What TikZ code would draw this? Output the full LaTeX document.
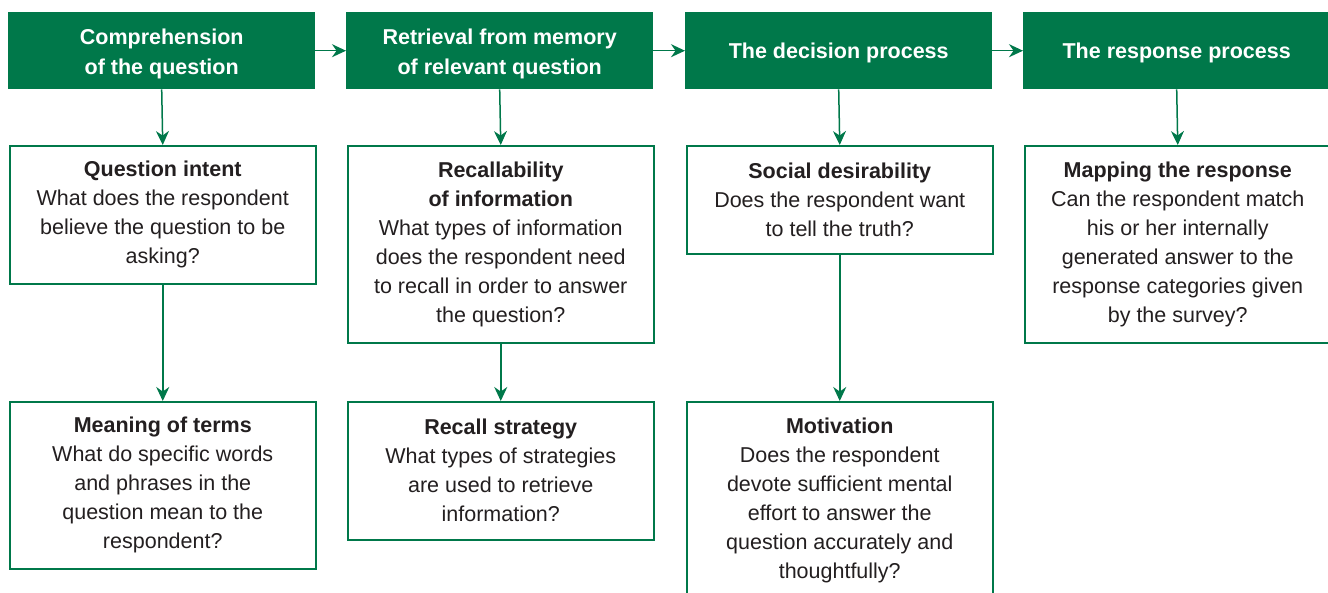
\documentclass[tikz,border=0pt]{standalone}
\usepackage{fontspec}
\setmainfont{Liberation Sans}
\usetikzlibrary{arrows.meta}
\definecolor{hgreen}{RGB}{0,120,74}
\definecolor{ink}{RGB}{35,31,32}
\begin{document}
\begin{tikzpicture}[x=1pt,y=-1pt,
 head/.style={fill=hgreen, minimum width=307pt, minimum height=77pt, inner sep=0pt, anchor=north west},
 headtext/.style={text=white, font=\fontsize{21.5}{30}\selectfont\bfseries, inner sep=0pt, align=center},
 box/.style={draw=hgreen, line width=1.5pt, text=ink, font=\fontsize{21.5}{29}\selectfont,
   minimum width=306pt, inner sep=0pt, align=center, anchor=north west},
 arr/.style={draw=hgreen, line width=1.5pt, -{Stealth[length=14pt,width=13pt]}}]
\useasboundingbox (0,0) rectangle (1328,592);
\clip (0,0) rectangle (1328,592);
\fill[white] (0,0) rectangle (1328,592);
% headers
\node[head] (h1) at (8,12) {};
\node[head] (h2) at (346,12) {};
\node[head] (h3) at (685,12) {};
\node[head] (h4) at (1023,12) {};
\node[headtext] (t1) at ([yshift=-3pt]h1.center) {Comprehension\\of the question};
\node[headtext] (t2) at ([yshift=-3pt]h2.center) {Retrieval from memory\\of relevant question};
\node[headtext] (t3) at ([yshift=-2pt]h3.center) {The decision process};
\node[headtext] (t4) at ([yshift=-2pt]h4.center) {The response process};
% row 2
\node[box, minimum height=138pt] (b1) at (9,145) {\textbf{Question intent}\\What does the respondent\\believe the question to be\\asking?};
\node[box, minimum height=197pt] (b2) at (347,145) {\textbf{Recallability}\\\textbf{of information}\\What types of information\\does the respondent need\\to recall in order to answer\\the question?};
\node[box, minimum height=108pt] (b3) at (686,145) {\textbf{Social desirability}\\Does the respondent want\\to tell the truth?};
\node[box, minimum height=197pt] (b4) at (1024,145) {\textbf{Mapping the response}\\Can the respondent match\\his or her internally\\generated answer to the\\response categories given\\by the survey?};
% row 3
\node[box, minimum height=167pt] (c1) at (9,401) {\textbf{Meaning of terms}\\What do specific words\\and phrases in the\\question mean to the\\respondent?};
\node[box, minimum height=138pt] (c2) at (347,401) {\textbf{Recall strategy}\\What types of strategies\\are used to retrieve\\information?};
\node[box, minimum height=197pt] (c3) at (686,401) {\textbf{Motivation}\\Does the respondent\\devote sufficient mental\\effort to answer the\\question accurately and\\thoughtfully?};
% connectors
\draw[arr] (h1.east) -- (h2.west);
\draw[arr] (h2.east) -- (h3.west);
\draw[arr] (h3.east) -- (h4.west);
\draw[arr] (h1.south) -- (b1.north);
\draw[arr] (h2.south) -- (b2.north);
\draw[arr] (h3.south) -- (b3.north);
\draw[arr] (h4.south) -- (b4.north);
\draw[arr] (b1.south) -- (c1.north);
\draw[arr] (b2.south) -- (c2.north);
\draw[arr] (b3.south) -- (c3.north);
\end{tikzpicture}
\end{document}
